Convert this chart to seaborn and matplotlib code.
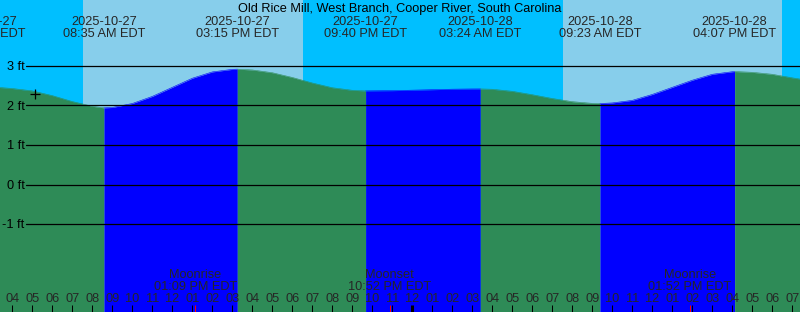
import numpy as np
import pandas as pd
import matplotlib
matplotlib.use("Agg")
import matplotlib.pyplot as plt
import matplotlib.transforms as mtransforms
import seaborn as sns

# ---------------- data (hours since 2025-10-27 00:00 EDT) ----------------
station = "Old Rice Mill, West Branch, Cooper River, South Carolina"

hours = [2.583, 3, 4, 5, 6, 7, 8, 8.583, 9, 10, 11, 12, 13, 14, 15, 15.25,
         16, 17, 18, 19, 20, 21, 21.667, 22, 23, 24, 25, 26, 27, 27.4,
         28, 29, 30, 31, 32, 33, 33.383, 34, 35, 36, 37, 38, 39, 40, 40.117,
         41, 42, 43, 44]
heights = [2.48, 2.47, 2.43, 2.37, 2.25, 2.10, 1.98, 1.94, 1.95, 2.05, 2.23, 2.46, 2.69, 2.85, 2.915, 2.92,
           2.90, 2.83, 2.71, 2.57, 2.45, 2.385, 2.37, 2.372, 2.376, 2.388, 2.40, 2.413, 2.419, 2.42,
           2.411, 2.359, 2.273, 2.177, 2.097, 2.054, 2.05, 2.065, 2.13, 2.28, 2.46, 2.64, 2.79, 2.855, 2.86,
           2.84, 2.79, 2.70, 2.62]

event_hours = [2.583, 8.583, 15.25, 21.667, 27.4, 33.383, 40.117]
event_dates = ["2025-10-27", "2025-10-27", "2025-10-27", "2025-10-27",
               "2025-10-28", "2025-10-28", "2025-10-28"]
event_times = ["02:35 AM EDT", "08:35 AM EDT", "03:15 PM EDT", "09:40 PM EDT",
               "03:24 AM EDT", "09:23 AM EDT", "04:07 PM EDT"]

sunrise_hours = [7.535, 31.535]
sunset_hours = [18.52, 42.485]

moon_hours = [13.15, 22.867, 37.867]
moon_events = ["Moonrise", "Moonset", "Moonrise"]
moon_times = ["01:09 PM EDT", "10:52 PM EDT", "01:52 PM EDT"]

tick_hours = list(range(4, 44))
hour_labels = ["04", "05", "06", "07", "08", "09", "10", "11", "12",
               "01", "02", "03", "04", "05", "06", "07", "08", "09", "10", "11", "12",
               "01", "02", "03", "04", "05", "06", "07", "08", "09", "10", "11", "12",
               "01", "02", "03", "04", "05", "06", "07"]
midnight_hour = 24

ft_levels = [-1, 0, 1, 2, 3]
ft_labels = ["-1 ft", "0 ft", "1 ft", "2 ft", "3 ft"]

now_hour = 5.11
now_height = 2.28

# ---------------- style ----------------
NIGHT = "#00BFFF"
DAY = "#87CEEB"
EBB = "#2E8B57"
FLOOD = "#0000FF"

sns.set_theme(style="white")
plt.rcParams["font.family"] = ["Liberation Sans", "DejaVu Sans"]
FS = 9.2

W, H = 800, 312
x_start = 3.385
x_end = x_start + 40.0
y_top = 184.5 / 39.5
y_bot = (184.5 - 312) / 39.5

fig = plt.figure(figsize=(W / 100, H / 100), dpi=100)
ax = fig.add_axes([0, 0, 1, 1])
ax.set_xlim(x_start, x_end)
ax.set_ylim(y_bot, y_top)
ax.set_axis_off()

# background night / day
ax.axvspan(x_start - 5, x_end + 5, color=NIGHT, lw=0, zorder=0)
for sr, ss in zip(sunrise_hours, sunset_hours):
    ax.axvspan(sr, ss, color=DAY, lw=0, zorder=0.5)

# tide segments
df = pd.DataFrame({"hour": hours, "height": heights})
bounds = event_hours + [max(hours)]
rows = []
for i in range(len(bounds) - 1):
    seg = df[(df.hour >= bounds[i]) & (df.hour <= bounds[i + 1])].copy()
    rising = seg.height.iloc[-1] > seg.height.iloc[0]
    seg["phase"] = "flood" if rising else "ebb"
    seg["seg"] = i
    rows.append(seg)
    ax.fill_between(seg.hour, seg.height, y_bot - 1, color=FLOOD if rising else EBB,
                    lw=0, zorder=1)
segs = pd.concat(rows, ignore_index=True)
sns.lineplot(data=segs, x="hour", y="height", hue="phase", units="seg",
             estimator=None, palette={"flood": FLOOD, "ebb": EBB},
             lw=0.4, legend=False, ax=ax, zorder=2)
ax.set_axis_off()

# horizontal ft lines
for lv, lb in zip(ft_levels, ft_labels):
    ax.axhline(lv, xmin=26 / W, xmax=1, color="black", lw=0.9, zorder=3)
    ax.text(24.5 / W, lv - 4.3 / 39.5, lb, transform=mtransforms.blended_transform_factory(ax.transAxes, ax.transData),
            ha="right", va="baseline", fontsize=FS, color="black", zorder=4)

trans = mtransforms.blended_transform_factory(ax.transData, ax.transAxes)


def ypx(p):
    return 1 - p / H


# title
ax.text(0.5, ypx(12), station, transform=ax.transAxes, ha="center", va="baseline",
        fontsize=FS, color="black", zorder=5)

# tide event labels
for eh, ed, et in zip(event_hours, event_dates, event_times):
    ax.text(eh, ypx(25), ed, transform=trans, ha="center", va="baseline", fontsize=FS, zorder=5)
    ax.text(eh, ypx(37), et, transform=trans, ha="center", va="baseline", fontsize=FS, zorder=5)

# moon labels
for mh, me, mt in zip(moon_hours, moon_events, moon_times):
    ax.text(mh, ypx(278.5), me, transform=trans, ha="center", va="baseline", fontsize=FS, zorder=5)
    ax.text(mh, ypx(290.5), mt, transform=trans, ha="center", va="baseline", fontsize=FS, zorder=5)

# hour ticks and labels
for th, tl in zip(tick_hours, hour_labels):
    ax.text(th, ypx(302.5), tl, transform=trans, ha="center", va="baseline", fontsize=FS, zorder=5)
    lw = 2.2 if th == midnight_hour else 0.75
    ax.plot([th, th], [0, ypx(305)], transform=trans, color="black", lw=lw,
            solid_capstyle="butt", zorder=5)
for mh in moon_hours:
    ax.plot([mh, mh], [0, ypx(305)], transform=trans, color="red", lw=0.75,
            solid_capstyle="butt", zorder=5)

# current-time marker
ax.plot([now_hour], [now_height], marker="+", color="black", ms=7, mew=0.9, zorder=6)

fig.savefig("out.png", dpi=100)
